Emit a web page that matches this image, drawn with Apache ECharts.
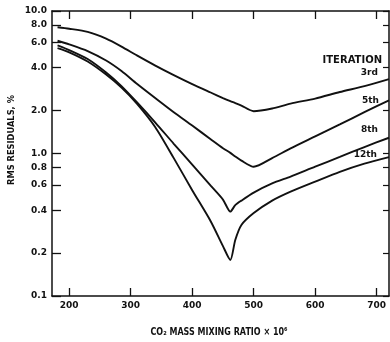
<!DOCTYPE html>
<html>
<head>
<meta charset="utf-8">
<script src="https://cdn.jsdelivr.net/npm/echarts@6/dist/echarts.min.js"></script>
<style>
  html, body { margin: 0; padding: 0; background: #fff; }
  #chart { width: 390px; height: 342px; }
</style>
</head>
<body>
<div id="chart"></div>
<script>
// CO2 mass mixing ratio (x 10^6) sample points shared by all iteration curves
const mixingRatio = [181, 200, 230, 260, 285, 310, 340, 370, 400, 430, 450, 462, 470, 480, 500, 530, 560, 600, 640, 680, 720];

// RMS residuals (%) after each retrieval iteration
const rms3rd  = [7.69, 7.51, 7.13, 6.40, 5.63, 4.88, 4.14, 3.55, 3.07, 2.68, 2.45, 2.33, 2.26, 2.17, 1.98, 2.07, 2.24, 2.43, 2.70, 2.97, 3.33];
const rms5th  = [6.18, 5.83, 5.23, 4.49, 3.79, 3.09, 2.45, 1.95, 1.57, 1.26, 1.09, 1.01, 0.954, 0.892, 0.807, 0.928, 1.086, 1.318, 1.60, 1.95, 2.36];
const rms8th  = [5.74, 5.32, 4.60, 3.70, 2.97, 2.29, 1.65, 1.17, 0.836, 0.595, 0.475, 0.391, 0.434, 0.467, 0.532, 0.617, 0.689, 0.809, 0.946, 1.11, 1.29];
const rms12th = [5.49, 5.13, 4.42, 3.58, 2.90, 2.24, 1.53, 0.928, 0.553, 0.335, 0.224, 0.179, 0.247, 0.315, 0.382, 0.467, 0.540, 0.635, 0.744, 0.849, 0.943];

const iterationNames = ['3rd', '5th', '8th', '12th'];
const iterationValues = [rms3rd, rms5th, rms8th, rms12th];

// Tick positions and labels
const xTicks = [200, 300, 400, 500, 600, 700];
const yTicks = [0.1, 0.2, 0.4, 0.6, 0.8, 1.0, 2.0, 4.0, 6.0, 8.0, 10.0];

const xTitle = 'CO\u2082 MASS MIXING RATIO \u00d7 10\u2076';
const yTitle = 'RMS RESIDUALS, %';
const legendTitle = 'ITERATION';

const FONT = 'DejaVu Sans';
const INK = '#111';

const chart = echarts.init(document.getElementById('chart'), null, { renderer: 'canvas' });

const series = iterationNames.map((name, i) => ({
  name: name,
  type: 'line',
  xAxisIndex: 0,
  yAxisIndex: 0,
  data: mixingRatio.map((x, j) => [x, iterationValues[i][j]]),
  smooth: 0.25,
  showSymbol: false,
  lineStyle: { color: INK, width: 1.9 },
  silent: true
}));

const xBase = {
  type: 'value',
  min: 172,
  max: 720,
  splitLine: { show: false },
  axisLine: { show: true, lineStyle: { color: INK, width: 1.5 } }
};
const yBase = {
  type: 'log',
  logBase: 10,
  min: 0.1,
  max: 10,
  splitLine: { show: false },
  minorTick: { show: false },
  axisLine: { show: true, lineStyle: { color: INK, width: 1.5 } }
};

// Annotation text drawn at fixed spots beside the curves
function label(text, x, y, size, align) {
  return {
    type: 'text', x: x, y: y,
    style: { text: text, textAlign: align || 'right', textVerticalAlign: 'middle',
             fontFamily: FONT, fontSize: size, fontWeight: 'bold', fill: INK }
  };
}

chart.setOption({
  animation: false,
  backgroundColor: '#fff',
  grid: { left: 52, right: 1, top: 11, bottom: 46, containLabel: false },
  xAxis: [
    Object.assign({}, xBase, {
      position: 'bottom',
      axisTick: { show: true, inside: true, length: 8, customValues: xTicks, lineStyle: { color: INK, width: 1.3 } },
      axisLabel: {
        show: true, customValues: xTicks, margin: 5,
        fontFamily: FONT, fontSize: 9, fontWeight: 'bold', color: INK
      }
    }),
    Object.assign({}, xBase, {
      position: 'top',
      axisTick: { show: true, inside: true, length: 8, customValues: xTicks, lineStyle: { color: INK, width: 1.3 } },
      axisLabel: { show: false }
    })
  ],
  yAxis: [
    Object.assign({}, yBase, {
      position: 'left',
      axisTick: { show: true, inside: true, length: 9, customValues: yTicks, lineStyle: { color: INK, width: 1.3 } },
      axisLabel: {
        show: true, customValues: yTicks, margin: 5,
        fontFamily: FONT, fontSize: 9, fontWeight: 'bold', color: INK,
        formatter: v => Number(v).toFixed(1)
      }
    }),
    Object.assign({}, yBase, {
      position: 'right',
      axisTick: { show: true, inside: true, length: 6, customValues: yTicks, lineStyle: { color: INK, width: 1.2 } },
      axisLabel: { show: false }
    })
  ],
  series: series,
  graphic: [
    Object.assign(label(xTitle, 219, 332, 10, 'center'), { scaleX: 0.8 }),
    Object.assign(label(yTitle, 12, 140, 9, 'center'), { rotation: Math.PI / 2, scaleX: 0.92 }),
    label(legendTitle, 382, 60, 10),
    label(iterationNames[0], 378, 73, 9),
    label(iterationNames[1], 379, 101, 9),
    label(iterationNames[2], 378, 130, 9),
    label(iterationNames[3], 377, 155, 9)
  ]
});
</script>
</body>
</html>
